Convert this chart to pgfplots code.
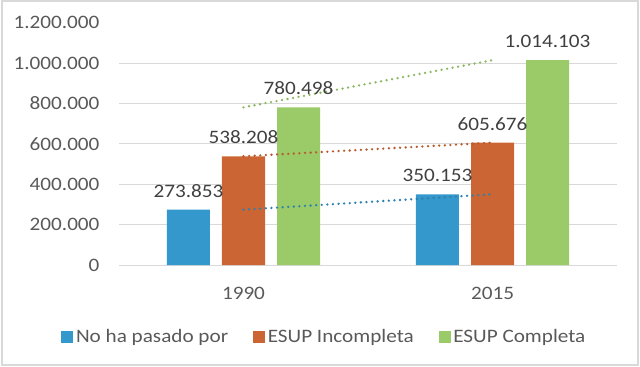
\documentclass[border=0pt]{standalone}
\usepackage{fontspec}
\setmainfont{Carlito}[FakeStretch=1.115]
\usepackage{pgfplots}
\pgfplotsset{compat=1.18}
\definecolor{cblue}{RGB}{52,152,204}
\definecolor{corange}{RGB}{203,101,51}
\definecolor{cgreen}{RGB}{154,203,104}
\definecolor{gridgray}{RGB}{217,217,217}
\definecolor{txtgray}{RGB}{89,89,89}
\definecolor{lblgray}{RGB}{64,64,64}
\pgfkeys{/pgf/number format/.cd,fixed,precision=0,1000 sep={.},assume math mode=true}
\pgfplotsset{
  mybar/.style 2 args={ybar, bar width=0.1727, bar shift=#1, draw=none,
    nodes near coords,
    every node near coord/.append style={text=lblgray, anchor=south, inner sep=0pt, yshift=12bp, xshift=#2},
    legend image code/.code={\fill[##1] (0bp,-6bp) rectangle (12bp,6bp);}},
  trend/.style={forget plot, line width=2.6bp, line cap=round, dash pattern=on 0pt off 5.6bp}
}
\begin{document}
\fontsize{19bp}{22bp}\selectfont
\begin{tikzpicture}
\useasboundingbox (-119bp,-102bp) rectangle (521bp,265bp);
\begin{axis}[
  scale only axis, width=498bp, height=242.4bp,
  at={(0,0)}, anchor=south west,
  xmin=-0.5, xmax=1.5, ymin=0, ymax=1200000,
  xtick={0,1}, xticklabels={1990,2015},
  ytick={0,200000,400000,600000,800000,1000000},
  extra y ticks={1200000}, extra y tick style={grid=none},
  scaled y ticks=false,
  ymajorgrids, grid style={draw=gridgray, line width=0.9bp},
  axis line style={draw=none},
  major tick length=0pt,
  ticklabel style={text=txtgray},
  yticklabel style={xshift=-13bp},
  xticklabel style={yshift=-16bp},
  clip=false,
  legend columns=3,
  legend style={at={(0.413,-0.297)}, anchor=center, draw=none, fill=none,
    text=txtgray, /tikz/every even column/.append style={column sep=22bp},
    nodes={inner sep=2.8bp}},
]
\addplot[mybar={-0.2209}{-55bp}, fill=cblue] coordinates {(0,273853) (1,350153)};
\addlegendentry{No ha pasado por}
\addplot[mybar={0}{0bp}, fill=corange] coordinates {(0,538208) (1,605676)};
\addlegendentry{ESUP Incompleta}
\addplot[mybar={0.2209}{55bp}, fill=cgreen] coordinates {(0,780498) (1,1014103)};
\addlegendentry{ESUP Completa}
\addplot[trend, draw=cblue!85!black] coordinates {(0,273853) (1,350153)};
\addplot[trend, draw=corange!90!black] coordinates {(0,538208) (1,605676)};
\addplot[trend, draw=cgreen!90!black] coordinates {(0,780498) (1,1014103)};
\end{axis}
\draw[gridgray, line width=1.2bp] (-117bp,-100bp) rectangle (519bp,264bp);
\end{tikzpicture}
\end{document}
